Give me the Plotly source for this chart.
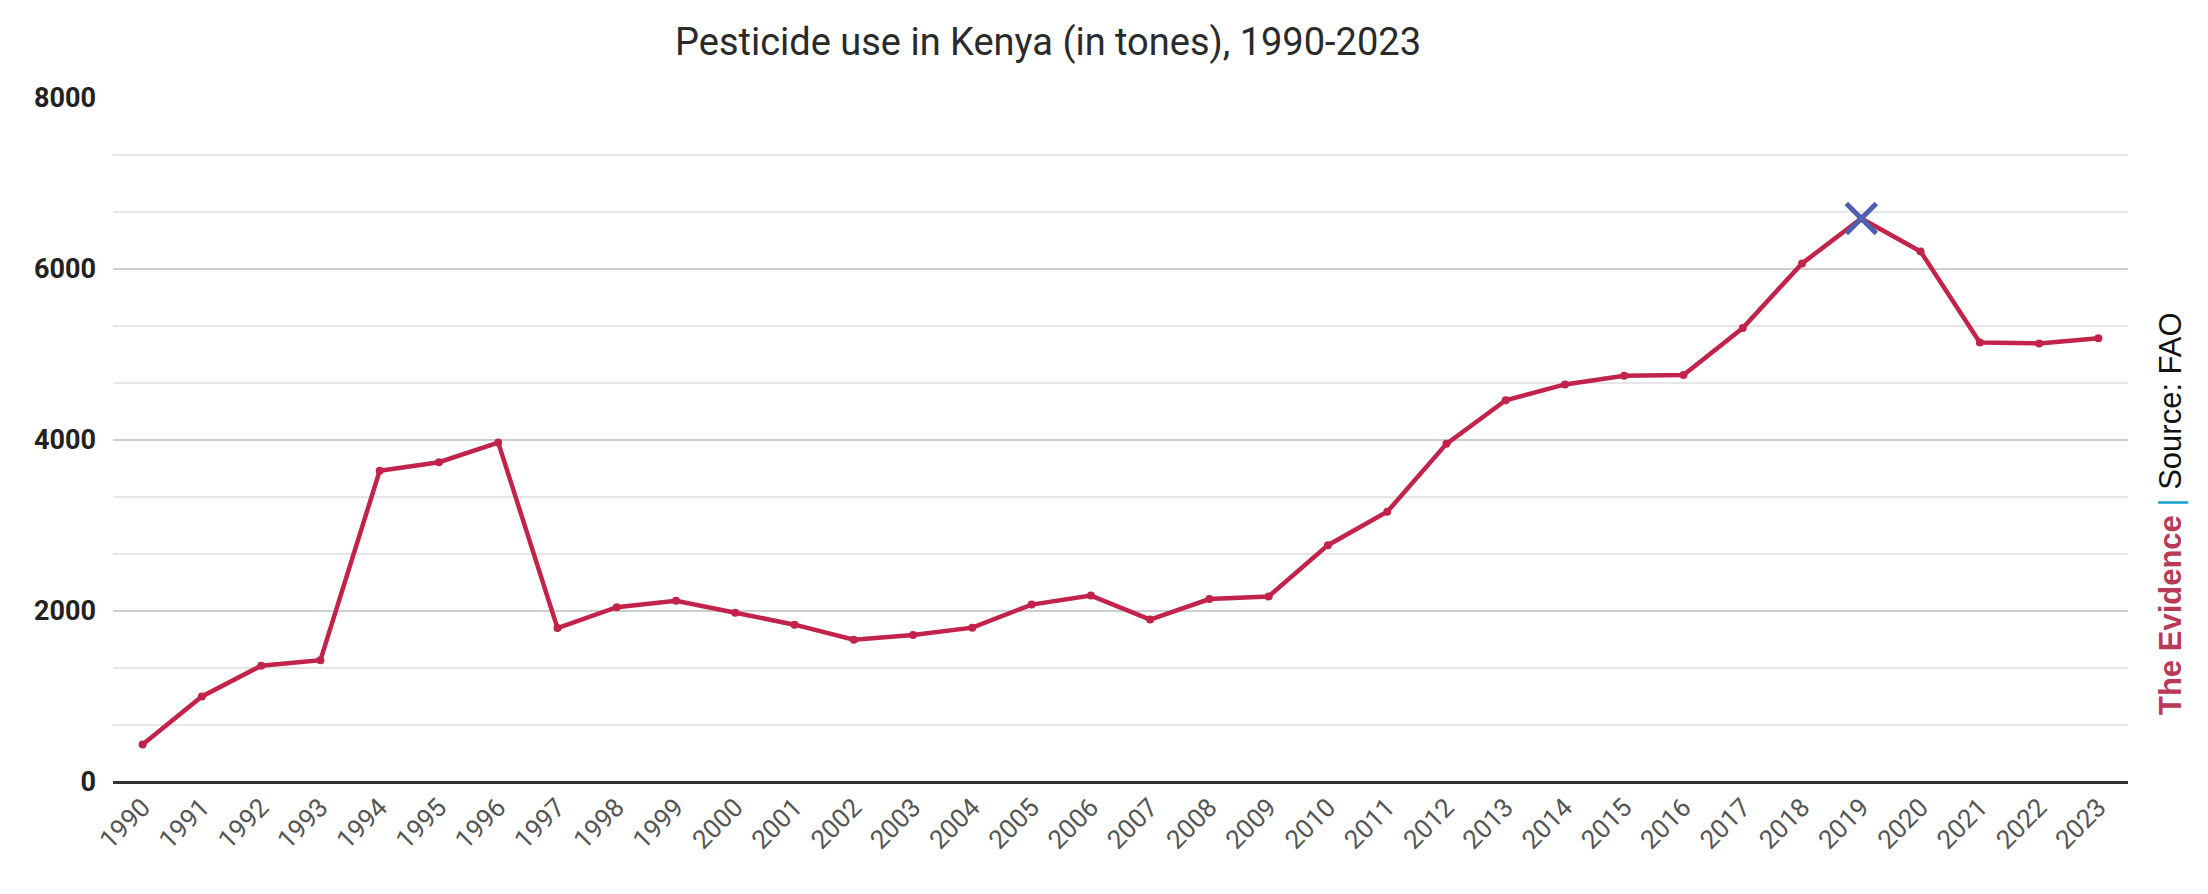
import plotly.graph_objects as go

years = [str(y) for y in range(1990, 2024)]
tonnes = [440, 1000, 1360, 1425, 3640, 3740, 3970, 1800, 2045, 2120,
          1980, 1840, 1665, 1720, 1805, 2075, 2180, 1900, 2140, 2170,
          2770, 3160, 3955, 4465, 4650, 4750, 4760, 5310, 6065, 6590,
          6205, 5140, 5130, 5190]
peak_year = ["2019"]
peak_value = [6590]

title_text = "Pesticide use in Kenya (in tones), 1990-2023"
y_ticks = [0, 2000, 4000, 6000, 8000]

W, H = 2208, 894
L, R, T, B = 113, 80, 98, 112
pw, ph = W - L - R, H - T - B

def px_x(x):
    return (x - L) / pw

def px_y(y):
    return (H - B - y) / ph

fig = go.Figure()
fig.add_trace(go.Scatter(
    x=years, y=tonnes, mode="lines+markers",
    line=dict(color="#c2234a", width=4.5),
    marker=dict(color="#c2234a", size=8),
    hoverinfo="x+y", showlegend=False,
))
fig.add_trace(go.Scatter(
    x=peak_year, y=peak_value, mode="markers",
    marker=dict(symbol="x-thin", size=30, color="#5060b0",
                line=dict(color="#5060b0", width=5)),
    showlegend=False,
))

fig.update_layout(
    width=W, height=H,
    margin=dict(l=L, r=R, t=T, b=B),
    plot_bgcolor="white", paper_bgcolor="white",
    xaxis=dict(
        type="category", range=[-0.5, len(years) - 0.5],
        tickangle=-45, showgrid=False, ticks="",
        tickfont=dict(family="Roboto", size=26, color="#555"),
        showline=False, ticklabelstandoff=4,
    ),
    yaxis=dict(
        range=[0, 8000], tickvals=y_ticks, ticktext=[str(v) for v in y_ticks],
        showgrid=True, gridcolor="#cdcdcd", gridwidth=1.5,
        minor=dict(dtick=2000 / 3, tick0=0, showgrid=True,
                   gridcolor="#e6e6e6", gridwidth=1.5),
        zeroline=True, zerolinecolor="#333333", zerolinewidth=2.5,
        tickfont=dict(family="Roboto", size=27, color="#222", weight="bold"),
        ticks="", ticklabelstandoff=16,
    ),
    annotations=[
        dict(text=title_text, x=px_x(1048), y=px_y(42), xref="paper", yref="paper",
             xanchor="center", yanchor="middle", showarrow=False,
             font=dict(family="Roboto", size=38, color="#2a2a2a")),
        dict(text="<b><span style='color:#b83a56'>The Evidence</span></b> "
                  "<span style='color:#1aa6cf'>|</span> Source: FAO",
             x=px_x(2170), y=px_y(514), xref="paper", yref="paper",
             xanchor="center", yanchor="middle", textangle=-90, showarrow=False,
             font=dict(family="Liberation Sans", size=31, color="#111")),
    ],
)

fig.write_html("out.html")
